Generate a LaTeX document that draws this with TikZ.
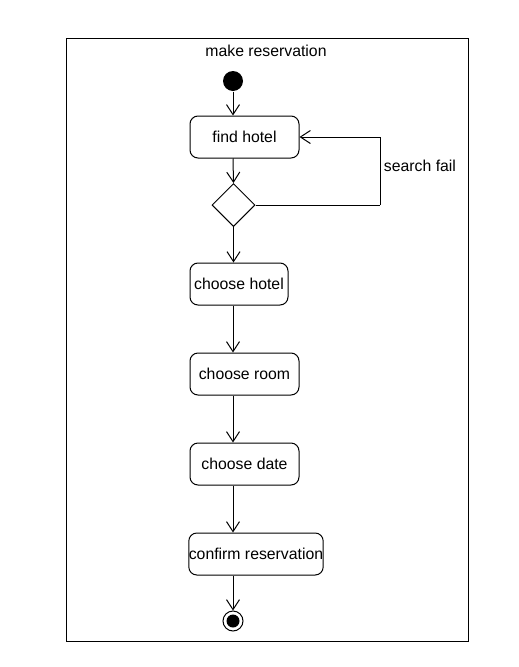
\documentclass[tikz,border=0pt]{standalone}
\usepackage{fontspec}
\setmainfont{Liberation Sans}
\usetikzlibrary{arrows.meta,shapes.geometric}
\begin{document}
\begin{tikzpicture}[x=1pt,y=-1pt,line width=1pt,
  act/.style={draw,rounded corners=8pt,minimum height=42pt,inner sep=0pt,font=\fontsize{15.8}{18}\selectfont},
  lbl/.style={font=\fontsize{15.8}{18}\selectfont,inner sep=0pt},
  arr/.style={-{Straight Barb[length=10pt,width=13pt,line width=1pt]}}]
\useasboundingbox (0,0) rectangle (519,667);
\node[draw,minimum width=402pt,minimum height=603pt,inner sep=0pt] (frame) at (267,339.5) {};
\node[lbl] (title) at (266,51) {make reservation};
\node[circle,fill=black,minimum size=20pt,inner sep=0pt] (start) at (233,81) {};
\node[act,minimum width=109pt] (fh) at (244.5,137) {find hotel};
\node[diamond,draw,minimum width=43pt,minimum height=43pt,inner sep=0pt] (dec) at (233.5,205) {};
\node[act,minimum width=98pt] (ch) at (239,284) {choose hotel};
\node[act,minimum width=109pt] (cr) at (244.5,374) {choose room};
\node[act,minimum width=109pt] (cd) at (244.5,464) {choose date};
\node[act,minimum width=132pt] (cf) at (256,554) {confirm reservation};
\node[circle,draw,fill=white,minimum size=20pt,inner sep=0pt] (end) at (233,621) {};
\node[circle,fill=black,minimum size=13pt,inner sep=0pt] (endin) at (233,621) {};
\coordinate (loop) at (380,205);
\node[lbl] (sf) at (420,166) {search fail};
\draw[arr] (start.south) -- (start.south |- fh.north);
\draw[arr] (start.south |- fh.south) -- (dec.north);
\draw (dec.east) -- (loop);
\draw[arr] (loop) |- (fh.east);
\draw[arr] (dec.south) -- (dec.south |- ch.north);
\draw[arr] (start.south |- ch.south) -- (start.south |- cr.north);
\draw[arr] (start.south |- cr.south) -- (start.south |- cd.north);
\draw[arr] (start.south |- cd.south) -- (start.south |- cf.north);
\draw[arr] (start.south |- cf.south) -- (end.north);
\end{tikzpicture}
\end{document}
